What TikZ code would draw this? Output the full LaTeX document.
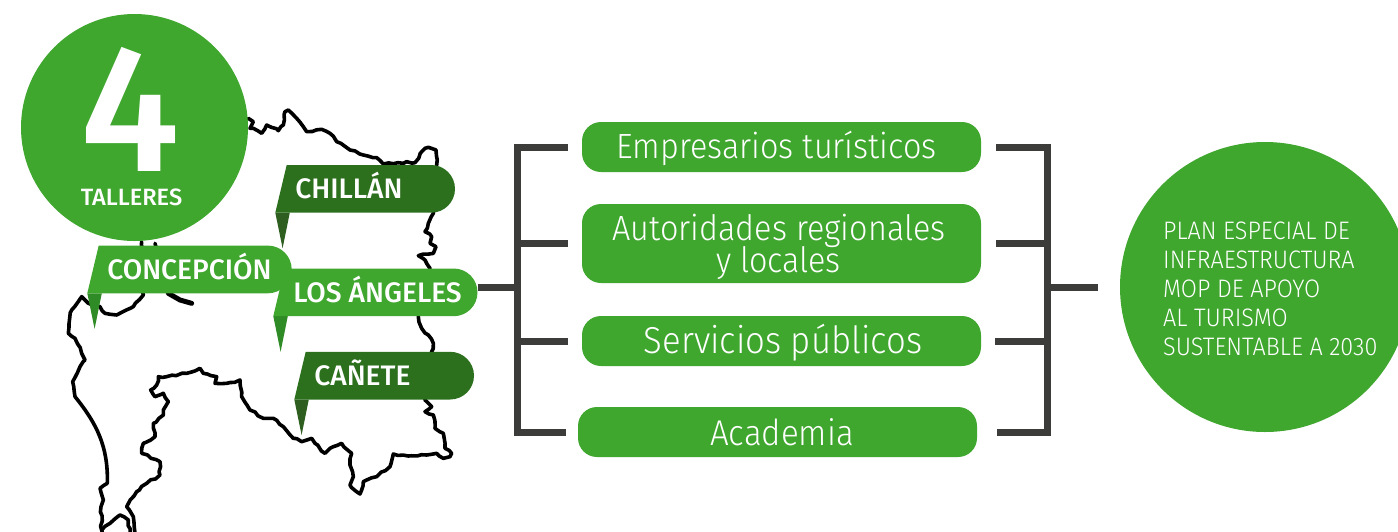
\documentclass[tikz,border=0pt]{standalone}
\usepackage{fontspec}
\setmainfont{Fira Sans Light}[UprightFeatures={FakeStretch=0.925},BoldFont=Fira Sans Medium]
\usepackage{xcolor}
\usetikzlibrary{positioning,decorations.pathmorphing}
\definecolor{mygreen}{HTML}{3FA62E}
\definecolor{mydarkgreen}{HTML}{2C701E}
\definecolor{mytail}{HTML}{2F8B26}
\definecolor{mydarktail}{HTML}{2E5F20}
\definecolor{mygrey}{HTML}{3C3C3B}
\pgfmathsetseed{7}
\tikzset{
  basic/.style={text=white,inner sep=0pt},
  taller/.style={basic,circle,fill=mygreen,minimum size=227pt},
  actor/.style={basic,rectangle,fill=mygreen,rounded corners=19pt,minimum width=399pt,font=\fontsize{35}{32}\selectfont,align=center},
  bracket/.style={mygrey,line width=7pt},
  region/.style={black,line width=3.6pt,line join=round,line cap=round},
  rough/.style={region,decorate,decoration={random steps,segment length=5pt,amplitude=1pt}},
  city/.style={basic,font=\fontsize{28.2}{28}\selectfont\bfseries,anchor=west}
}
\newcommand{\lowertext}[2]{\raisebox{-#1}[\height][\depth]{#2}}
% banner: name, left x, top y, right x, fill, tail colour, text
\newcommand{\banner}[7]{
  \fill[#6] (#2,#3+47.7) -- (#2+14.5,#3+47.7) -- (#2+7.3,#3+83.3) -- cycle;
  \fill[#5] (#2+11.4,#3) [rounded corners=23.8pt] -- (#4,#3) -- (#4,#3+47.7) [sharp corners] -- (#2,#3+47.7) -- cycle;
  \node[city] (#1) at (#2+19.8,#3+21) {#7};
  \coordinate (#1 end) at (#4,#3+24);
}
\begin{document}
\begin{tikzpicture}[x=1pt,y=-1pt]
  \useasboundingbox (0,0) rectangle (1398,531);
  % Draw region outline
  \begin{scope}[x=0.33333pt,y=-0.33333pt,yshift=-90pt]
    \draw[rough] (745,85) -- (760,95) -- (750,115) -- (760,115) -- (785,130) -- (800,105) -- (835,122) -- (850,105) -- (855,65) -- (865,60) -- (890,85) -- (910,110) -- (920,125) -- (965,118) -- (990,130) -- (1010,155) -- (1050,180) -- (1090,195) -- (1130,203) -- (1150,222) -- (1210,220) -- (1220,215) -- (1245,218) -- (1265,185) -- (1285,172) -- (1308,180) -- (1310,225) -- (1300,370) -- (1285,400) -- (1275,425) -- (1295,440) -- (1290,460) -- (1308,470) -- (1300,490) -- (1255,497) -- (1275,510) -- (1290,535) -- (1255,680) -- (1265,715) -- (1285,735) -- (1300,760) -- (1295,785) -- (1275,930) -- (1295,950) -- (1275,965) -- (1300,975) -- (1305,1015) -- (1330,1030) -- (1335,1075) -- (1355,1090) -- (1350,1100) -- (1330,1105) -- (1310,1090) -- (1280,1095) -- (1225,1098) -- (1180,1092) -- (1170,1130) -- (1130,1160) -- (1090,1175) -- (1080,1212) -- (1050,1185) -- (1060,1160) -- (1050,1125) -- (1055,1090) -- (1025,1060) -- (990,1075) -- (975,1090) -- (945,1060) -- (935,1045) -- (905,1055) -- (880,1045) -- (850,1010) -- (820,985) -- (790,985) -- (750,960) -- (725,920) -- (720,870) -- (680,880) -- (645,880) -- (650,860) -- (610,850) -- (600,835) -- (560,850) -- (500,860) -- (475,860) -- (470,885) -- (452,900) -- (465,920) -- (490,910) -- (505,935) -- (490,960) -- (490,975) -- (460,1000) -- (465,1040) -- (430,1060) -- (425,1090) -- (480,1115) -- (480,1155) -- (440,1180) -- (410,1205) -- (380,1250) -- (400,1280) -- (405,1330);
    \draw[region] (225,920) .. controls (290,1000) and (325,1070) .. (322,1180);
    \draw[rough] (322,1180) -- (300,1195) -- (310,1230) -- (303,1250) -- (305,1335);
    \draw[rough] (305,1320) -- (330,1300) -- (360,1275) -- (385,1290) -- (390,1330);
    \draw[rough] (225,920) -- (218,875) -- (240,830) -- (255,810) -- (245,790) -- (225,745) -- (205,730) -- (215,660) -- (245,620) -- (265,640) -- (300,650) -- (315,670) -- (350,675) -- (400,650) -- (430,615) -- (425,455);
    \draw[region,line width=5pt] (505,610) -- (540,630) -- (575,640);
    \draw[region] (465,460) -- (505,610);
  \end{scope}
  % Draw workshops circle
  \node[taller] (talleres) at (134.5,127.5) {};
  \node[basic,font=\fontsize{181}{181}\selectfont\bfseries] (cuatro) at (130.5,109.5) {4};
  \node[basic,font=\fontsize{23.6}{24}\selectfont\bfseries] (ntalleres) at (131.5,197) {TALLERES};
  % Draw city banners
  \banner{chillan}{275.3}{165}{455}{mydarkgreen}{mydarktail}{CHILLÁN}
  \banner{angeles}{273.3}{268.5}{477.5}{mygreen}{mytail}{LOS ÁNGELES}
  \banner{concepcion}{87.3}{245.6}{291.7}{mygreen}{mytail}{CONCEPCIÓN}
  \banner{canete}{294.3}{351.8}{474}{mydarkgreen}{mydarktail}{CAÑETE}
  % Draw actor boxes
  \node[actor,minimum height=50pt] (empresarios) at (781.5,147) {\lowertext{1pt}{Empresarios turísticos}\hspace{10pt}};
  \node[actor,minimum height=79pt] (autoridades) at (781.5,243.5) {\lowertext{4pt}{Autoridades regionales\hspace{5pt}}\\\lowertext{2pt}{y locales\hspace{6pt}}};
  \node[actor,minimum height=50pt,font=\fontsize{37.5}{32}\selectfont] (servicios) at (781.5,341) {\hspace{3pt}\lowertext{2pt}{Servicios públicos}};
  \node[actor,minimum height=50pt,font=\fontsize{35.8}{32}\selectfont] (academia) at (777.5,432) {\hspace{9pt}Academia};
  % Draw plan circle
  \node[taller,minimum size=290pt] (plan) at (1265,287) {};
  \node[basic,anchor=west,font=\fontsize{25.3}{29}\selectfont,align=left] (plantext) at (1163,288.5) {PLAN ESPECIAL DE\\INFRAESTRUCTURA\\MOP DE APOYO\\AL TURISMO\\SUSTENTABLE A 2030};
  % Draw left bracket
  \coordinate (lspine) at (517,287);
  \coordinate (rspine) at (1047,287);
  \draw[bracket] (angeles end |- lspine) -- (lspine);
  \draw[bracket,line cap=rect] (lspine |- empresarios.west) -- (lspine |- academia.west);
  \foreach \actor/\gapl/\gapr in {empresarios/14/15,autoridades/14/15,servicios/14/14,academia/12/20}{%
    \draw[bracket,shorten >=\gapl pt] (lspine |- \actor.west) -- (\actor.west);
    \draw[bracket,shorten >=\gapr pt] (rspine |- \actor.east) -- (\actor.east);
  }
  % Draw right bracket
  \draw[bracket,line cap=rect] (rspine |- empresarios.east) -- (rspine |- academia.east);
  \draw[bracket,shorten >=22pt] (rspine) -- (plan.west);
\end{tikzpicture}
\end{document}
